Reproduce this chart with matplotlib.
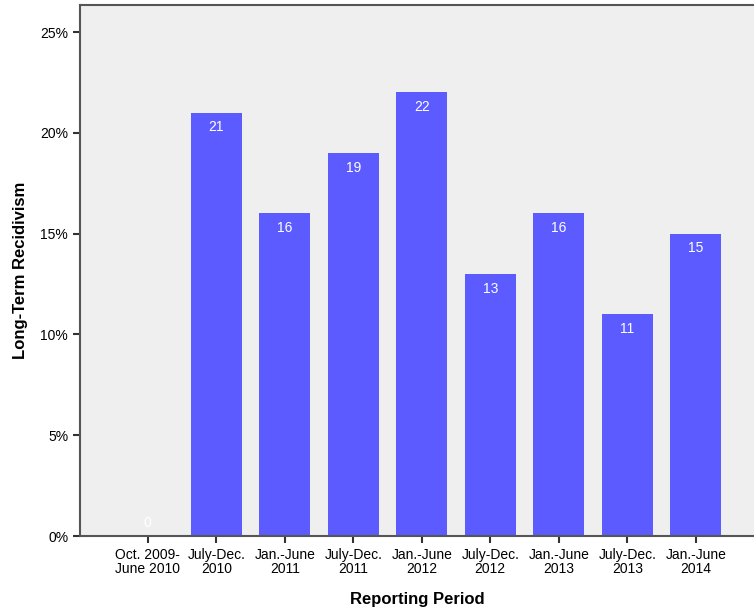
import matplotlib
matplotlib.use("Agg")
import matplotlib.pyplot as plt
from matplotlib.ticker import FuncFormatter

categories = ["Oct. 2009-\nJune 2010", "July-Dec.\n2010", "Jan.-June\n2011",
              "July-Dec.\n2011", "Jan.-June\n2012", "July-Dec.\n2012",
              "Jan.-June\n2013", "July-Dec.\n2013", "Jan.-June\n2014"]
values = [0, 21, 16, 19, 22, 13, 16, 11, 15]
yticks = [0, 5, 10, 15, 20, 25]

plt.rcParams['font.family'] = ['Liberation Sans', 'DejaVu Sans']

fig = plt.figure(figsize=(7.54, 6.10), dpi=100)
ax = fig.add_axes([80/754, 74/610, 1 - 80/754, (536-5)/610])
ax.set_facecolor('#efefef')

x = list(range(len(categories)))
bars = ax.bar(x, values, width=0.745, color='#5b5bff', edgecolor='none', zorder=2)

for xi, v in zip(x, values):
    if v > 0:
        ax.annotate(str(v), (xi, v), xytext=(0, -5.5), textcoords='offset points',
                    ha='center', va='top', color='white', fontsize=10)
    else:
        ax.annotate(str(v), (xi, v), xytext=(0, 4), textcoords='offset points',
                    ha='center', va='bottom', color='white', fontsize=10)

ax.set_xlim(-0.99, 8.85)
ax.set_ylim(0, 26.34)
ax.set_yticks(yticks)
ax.yaxis.set_major_formatter(FuncFormatter(lambda v, p: f"{int(v)}%"))
ax.set_xticks(x)
ax.set_xticklabels(categories, fontsize=10, linespacing=1.0)
ax.tick_params(axis='y', labelsize=10, length=5, width=1.5, color='#333333')
ax.tick_params(axis='x', length=5, width=1.5, color='#333333')

for s in ['left', 'bottom', 'top']:
    ax.spines[s].set_color('#555555')
    ax.spines[s].set_linewidth(1.5)
ax.spines['right'].set_visible(False)

ax.set_ylabel("Long-Term Recidivism", fontsize=12, fontweight='bold', labelpad=9)
ax.set_xlabel("Reporting Period", fontsize=12, fontweight='bold', labelpad=12)

fig.savefig("out.png", dpi=100)
